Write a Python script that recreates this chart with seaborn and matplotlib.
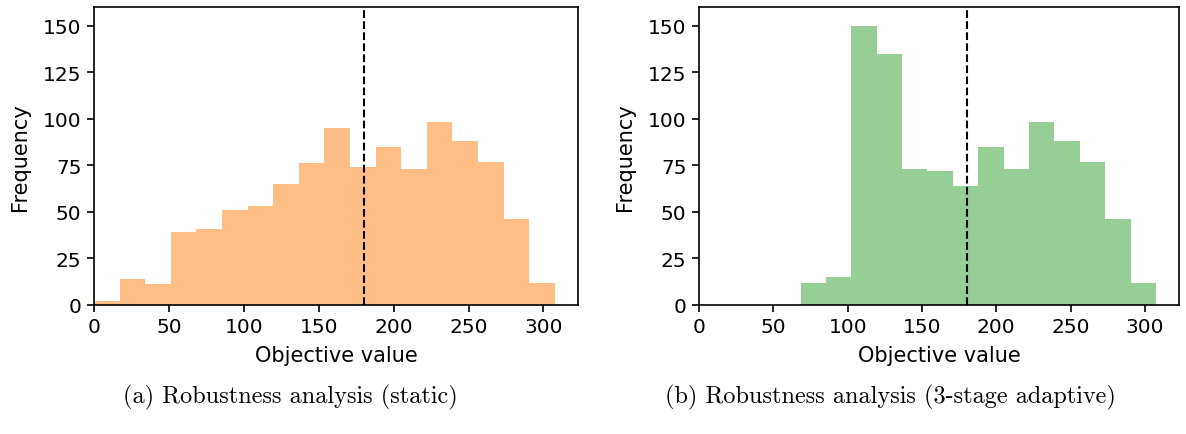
import numpy as np
import pandas as pd
import seaborn as sns
import matplotlib
matplotlib.use("Agg")
import matplotlib.pyplot as plt

# histogram bins (same edges for both panels)
bin_edges = list(np.linspace(0, 307.5, 19))
static_counts = [2, 14, 11, 39, 41, 51, 53, 65, 76, 95, 74, 85, 73, 98, 88, 77, 46, 12]
adaptive_counts = [0, 0, 0, 0, 12, 15, 150, 135, 73, 72, 64, 85, 73, 98, 88, 77, 46, 12]
threshold = 180
captions = ["(a) Robustness analysis (static)", "(b) Robustness analysis (3-stage adaptive)"]

centers = [(a + b) / 2 for a, b in zip(bin_edges[:-1], bin_edges[1:])]
df = pd.DataFrame({"value": centers, "static": static_counts, "adaptive": adaptive_counts})

sns.set_style("ticks")
plt.rcParams["axes.edgecolor"] = "black"
plt.rcParams["axes.labelcolor"] = "black"
plt.rcParams["text.color"] = "black"
plt.rcParams["xtick.color"] = "black"
plt.rcParams["ytick.color"] = "black"

fig = plt.figure(figsize=(11.86, 4.35), dpi=100)
ax1 = fig.add_axes([0.0793, 0.2966, 0.408, 0.685])
ax2 = fig.add_axes([0.5894, 0.2966, 0.4047, 0.685])

for ax, col, color in [(ax1, "static", "tab:orange"), (ax2, "adaptive", "tab:green")]:
    sns.histplot(data=df, x="value", weights=col, bins=bin_edges, color=color,
                 alpha=0.5, linewidth=0, ax=ax)
    ax.axvline(threshold, color="black", linestyle="--", linewidth=1.5)
    ax.set_xlim(0, 323)
    ax.set_ylim(0, 160)
    ax.set_xticks([0, 50, 100, 150, 200, 250, 300])
    ax.set_yticks([0, 25, 50, 75, 100, 125, 150])
    ax.tick_params(labelsize=14.5, length=5, width=1.2, pad=4)
    ax.set_xlabel("Objective value", fontsize=15, labelpad=6)
    ax.set_ylabel("Frequency", fontsize=15, labelpad=9)
    for s in ax.spines.values():
        s.set_linewidth(1.2)

fig.text(0.2445, 0.087, captions[0], ha="center", va="center", fontsize=17.5, family="cmr10")
fig.text(0.7505, 0.087, captions[1], ha="center", va="center", fontsize=17.5, family="cmr10")

fig.savefig("out.png", dpi=100)
